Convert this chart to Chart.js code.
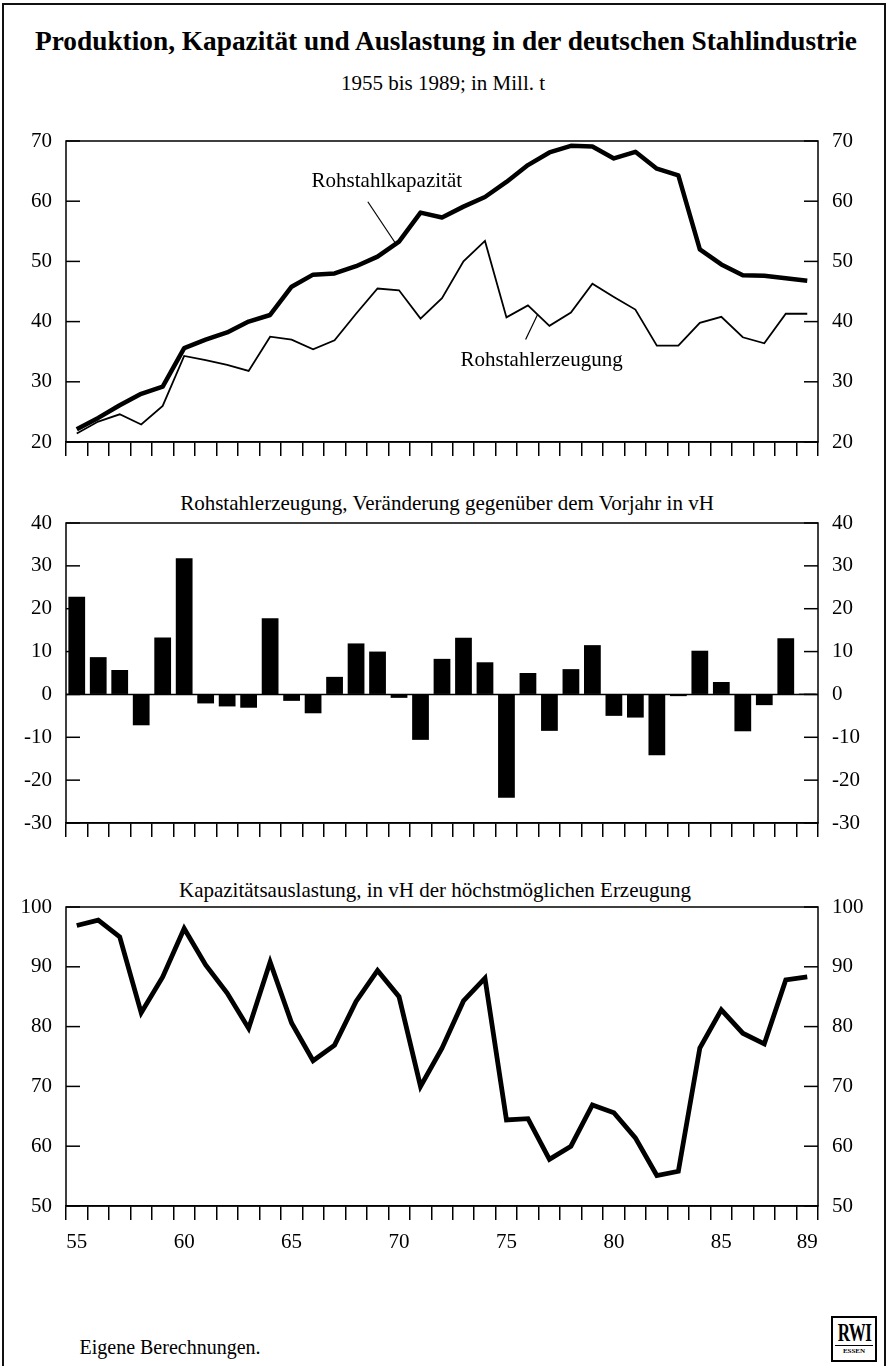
<!DOCTYPE html>
<html>
<head>
<meta charset="utf-8">
<script src="https://cdn.jsdelivr.net/npm/chart.js@4.4.1/dist/chart.umd.min.js"></script>
<style>
  body { margin: 0; width: 888px; height: 1366px; overflow: hidden; background: #fff; color: #000;
         font-family: "Liberation Serif", "DejaVu Serif", serif; position: relative; }
  #frame { position: absolute; left: 2px; top: 3px; width: 880px; height: 1400px;
           border: 2px solid #111; border-bottom: none; }
  .txt { position: absolute; white-space: nowrap; transform: translate(-50%, -50%); line-height: 1; }
  canvas { position: absolute; left: 0; }
  #logo { position: absolute; left: 831px; top: 1316px; width: 42px; height: 42px; border: 2px solid #000;
          text-align: center; font-weight: bold; overflow: hidden; }
  #logo .rwi { display: flex; justify-content: center; font-size: 25px; line-height: 25px;
               margin: 2px 2px 0 2px; border-bottom: 1.5px solid #000; white-space: nowrap; }
  #logo .rwi span { flex: none; transform: scaleX(0.68); letter-spacing: -1px; }
  #logo .essen { font-size: 7px; line-height: 11px; }
</style>
</head>
<body>
<div id="frame"></div>
<div class="txt" id="title" style="left:446px; top:41px; font-size:27px; font-weight:bold;">Produktion, Kapazität und Auslastung in der deutschen Stahlindustrie</div>
<div class="txt" style="left:443px; top:83px; font-size:21px;">1955 bis 1989; in Mill. t</div>
<div class="txt" style="left:447px; top:503px; font-size:21px;">Rohstahlerzeugung, Veränderung gegenüber dem Vorjahr in vH</div>
<div class="txt" style="left:435px; top:890px; font-size:21px;">Kapazitätsauslastung, in vH der höchstmöglichen Erzeugung</div>
<div class="txt" style="left:170px; top:1347px; font-size:20px;">Eigene Berechnungen.</div>
<div id="logo"><div class="rwi"><span>RWI</span></div><div class="essen">ESSEN</div></div>

<canvas id="c1" width="888" height="342" style="top:120px"></canvas>
<canvas id="c2" width="888" height="344" style="top:500px"></canvas>
<canvas id="c3" width="888" height="381" style="top:880px"></canvas>

<script>
const years = [1955, 1956, 1957, 1958, 1959, 1960, 1961, 1962, 1963, 1964, 1965, 1966, 1967, 1968, 1969,
  1970, 1971, 1972, 1973, 1974, 1975, 1976, 1977, 1978, 1979, 1980, 1981, 1982, 1983, 1984, 1985,
  1986, 1987, 1988, 1989];
const yearLabels = [1955, 1960, 1965, 1970, 1975, 1980, 1985, 1989];

// Mill. t
const capacity = [22.1, 24.0, 26.1, 28.0, 29.2, 35.6, 37.0, 38.2, 40.0, 41.1, 45.8, 47.8, 48.0, 49.2, 50.8,
  53.3, 58.1, 57.3, 59.1, 60.7, 63.2, 66.0, 68.1, 69.2, 69.1, 67.1, 68.2, 65.4, 64.3, 52.0, 49.5,
  47.7, 47.6, 47.2, 46.8];
const production = [21.4, 23.4, 24.6, 22.9, 26.0, 34.3, 33.6, 32.8, 31.8, 37.5, 37.0, 35.4, 36.9, 41.3, 45.5,
  45.2, 40.5, 43.9, 50.0, 53.4, 40.7, 42.7, 39.3, 41.5, 46.3, 44.1, 42.0, 36.0, 36.0, 39.8, 40.8,
  37.4, 36.4, 41.3, 41.3];
// vH gegenüber Vorjahr
const changePct = [22.8, 8.7, 5.7, -7.2, 13.3, 31.8, -2.1, -2.8, -3.1, 17.8, -1.5, -4.4, 4.1, 11.9, 10.0,
  -0.8, -10.6, 8.3, 13.2, 7.5, -24.1, 5.0, -8.5, 5.9, 11.5, -5.0, -5.4, -14.2, -0.4, 10.2, 2.9,
  -8.6, -2.5, 13.1, 0.2];
// vH der höchstmöglichen Erzeugung
const utilization = [96.9, 97.8, 95.0, 82.3, 88.3, 96.4, 90.3, 85.6, 79.7, 90.8, 80.6, 74.3, 76.9, 84.2, 89.4,
  85.0, 70.0, 76.4, 84.3, 88.1, 64.4, 64.6, 57.8, 60.0, 66.9, 65.6, 61.4, 55.1, 55.8, 76.4, 82.8,
  78.9, 77.1, 87.8, 88.3];

const ranges = {
  top: { min: 20, max: 70 },
  mid: { min: -30, max: 40 },
  bottom: { min: 50, max: 100 },
};

const FONT = { family: '"Liberation Serif", serif', size: 21 };

// inward tick marks, frame around plot area, optional zero line
const plotFrame = {
  id: 'plotFrame',
  afterDatasetsDraw(chart, args, opts) {
    const { ctx, chartArea: a } = chart;
    const y = chart.scales.y;
    const line = (x1, y1, x2, y2) => { ctx.beginPath(); ctx.moveTo(x1, y1); ctx.lineTo(x2, y2); ctx.stroke(); };
    ctx.save();
    ctx.strokeStyle = '#000';
    ctx.lineWidth = 1.5;
    ctx.strokeRect(a.left, a.top, a.right - a.left, a.bottom - a.top);
    y.ticks.forEach((t) => {
      const py = y.getPixelForValue(t.value);
      line(a.left, py, a.left + 14, py);
      line(a.right - 14, py, a.right, py);
    });
    if (opts.zero) {
      const p = y.getPixelForValue(0);
      line(a.left, p, a.right, p);
    }
    ctx.restore();
  },
};

// labels with leader lines, anchored on the data
const leaders = {
  id: 'leaders',
  afterDatasetsDraw(chart, args, opts) {
    if (!opts.notes) return;
    const ctx = chart.ctx;
    ctx.save();
    ctx.strokeStyle = '#000';
    ctx.fillStyle = '#000';
    ctx.lineWidth = 1.2;
    ctx.font = FONT.size + 'px ' + FONT.family;
    ctx.textAlign = 'center';
    ctx.textBaseline = 'middle';
    opts.notes.forEach((n) => {
      const pts = chart.getDatasetMeta(n.ds).data;
      const i = Math.floor(n.at), f = n.at - i;
      const p0 = pts[i], p1 = pts[Math.min(i + 1, pts.length - 1)];
      const ax = p0.x + (p1.x - p0.x) * f;
      const ay = p0.y + (p1.y - p0.y) * f;
      ctx.beginPath();
      ctx.moveTo(ax, ay);
      ctx.lineTo(ax + n.tip[0], ay + n.tip[1]);
      ctx.stroke();
      ctx.fillText(n.text, ax + n.label[0], ay + n.label[1]);
    });
    ctx.restore();
  },
};

function xAxis(showLabels, height, pad) {
  return {
    type: 'category',
    offset: true,
    grid: { offset: true, drawOnChartArea: false, drawTicks: true, tickLength: 14, color: '#000', lineWidth: 1.5 },
    border: { display: true, color: '#000', width: 1.5 },
    ticks: {
      display: showLabels,
      autoSkip: false,
      maxRotation: 0,
      padding: pad,
      color: '#000',
      font: FONT,
      callback: (v, i) => (yearLabels.includes(years[i]) ? String(years[i]).slice(2) : ''),
    },
    afterFit: (s) => { s.height = height; },
  };
}

// label gap comes from an invisible tick mark, so the top/bottom label overhang stays small
function yAxis(pos, range) {
  return {
    position: pos,
    min: range.min,
    max: range.max,
    grid: { display: true, drawOnChartArea: false, drawTicks: true, tickLength: 14, color: 'rgba(0,0,0,0)' },
    border: { display: false },
    ticks: { stepSize: 10, padding: 0, color: '#000', font: FONT },
    afterFit: (s) => { s.width = pos === 'left' ? 66 : 70; },
  };
}

function baseOptions(range, xCfg, padTop, extra) {
  return {
    responsive: false,
    animation: false,
    devicePixelRatio: 1,
    layout: { padding: { top: padTop, left: 0, right: 0, bottom: 0 } },
    plugins: Object.assign({ legend: { display: false }, tooltip: { enabled: false } }, extra || {}),
    scales: { x: xCfg, y: yAxis('left', range), y2: yAxis('right', range) },
  };
}

new Chart(document.getElementById('c1'), {
  type: 'line',
  data: {
    labels: years,
    datasets: [
      { data: capacity, borderColor: '#000', borderWidth: 4.5, pointRadius: 0, borderJoinStyle: 'round', yAxisID: 'y' },
      { data: production, borderColor: '#000', borderWidth: 1.8, pointRadius: 0, borderJoinStyle: 'miter', yAxisID: 'y' },
    ],
  },
  options: baseOptions(ranges.top, xAxis(false, 20, 0), 21, {
    plotFrame: {},
    leaders: {
      notes: [
        { text: 'Rohstahlkapazität', ds: 0, at: 14.85, tip: [-28, -42], label: [-9, -62] },
        { text: 'Rohstahlerzeugung', ds: 1, at: 21.45, tip: [-12, 25], label: [4, 46] },
      ],
    },
  }),
  plugins: [plotFrame, leaders],
});

new Chart(document.getElementById('c2'), {
  type: 'bar',
  data: {
    labels: years,
    datasets: [
      { data: changePct, backgroundColor: '#000', borderWidth: 0, barPercentage: 0.78, categoryPercentage: 1, yAxisID: 'y' },
    ],
  },
  options: baseOptions(ranges.mid, xAxis(false, 21, 0), 23, { plotFrame: { zero: true } }),
  plugins: [plotFrame],
});

new Chart(document.getElementById('c3'), {
  type: 'line',
  data: {
    labels: years,
    datasets: [
      { data: utilization, borderColor: '#000', borderWidth: 4.8, pointRadius: 0, borderJoinStyle: 'miter', yAxisID: 'y' },
    ],
  },
  options: baseOptions(ranges.bottom, xAxis(true, 55, 10), 27, { plotFrame: {} }),
  plugins: [plotFrame],
});

// squeeze the heading to the printed width
const title = document.getElementById('title');
const k = 822 / title.getBoundingClientRect().width;
title.style.transform = 'translate(-50%, -50%) scaleX(' + k.toFixed(3) + ')';
</script>
</body>
</html>
